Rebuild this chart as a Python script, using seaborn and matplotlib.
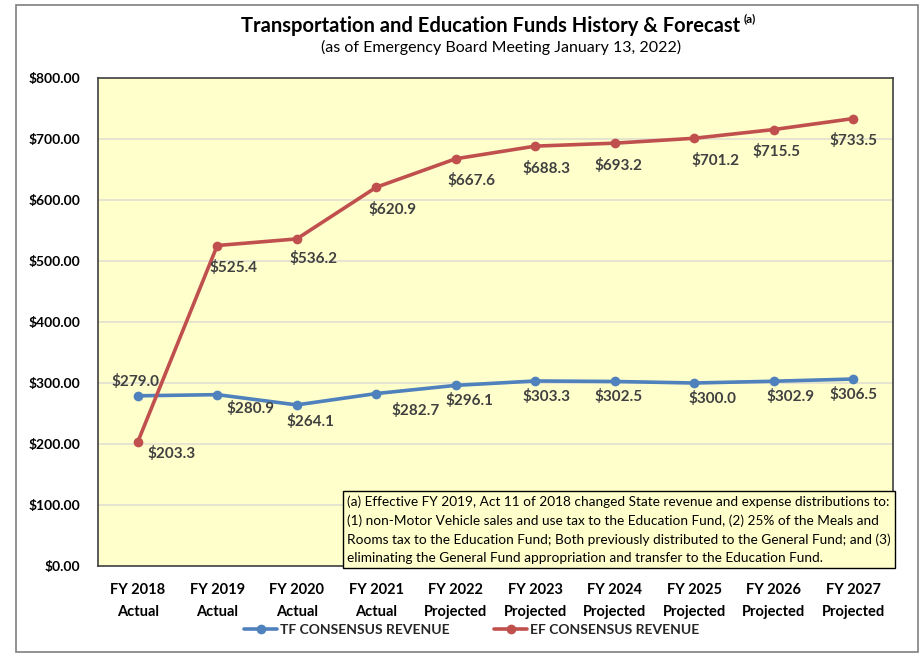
import pandas as pd
import matplotlib.pyplot as plt
import seaborn as sns

# Data
years = ["FY 2018\nActual", "FY 2019\nActual", "FY 2020\nActual", "FY 2021\nActual",
         "FY 2022\nProjected", "FY 2023\nProjected", "FY 2024\nProjected",
         "FY 2025\nProjected", "FY 2026\nProjected", "FY 2027\nProjected"]
tf_revenue = [279.0, 280.9, 264.1, 282.7, 296.1, 303.3, 302.5, 300.0, 302.9, 306.5]
ef_revenue = [203.3, 525.4, 536.2, 620.9, 667.6, 688.3, 693.2, 701.2, 715.5, 733.5]
series_names = ["TF CONSENSUS REVENUE", "EF CONSENSUS REVENUE"]

# label offsets in points (style only)
tf_offsets = [(-2, 10), (24, -10), (10, -12), (28, -12), (10, -11), (8, -11), (3, -11), (13, -11), (12, -11), (0, -11)]
ef_offsets = [(24, -8), (12, -16), (12, -14), (12, -16), (11, -16), (8, -16), (3, -16), (15, -16), (2, -16), (0, -16)]

sns.set_theme(style="white")
plt.rcParams["font.family"] = ["Lato", "DejaVu Sans"]

df = pd.DataFrame({
    "x": list(range(len(years))) * 2,
    "valor": tf_revenue + ef_revenue,
    "serie": [series_names[0]] * len(years) + [series_names[1]] * len(years),
})

fig = plt.figure(figsize=(9.2, 6.55), dpi=100)
ax = fig.add_axes([98 / 920, 1 - 566 / 655, 795 / 920, 488 / 655])
ax.set_facecolor("#FFFFCC")

colores = {series_names[0]: "#4F81BD", series_names[1]: "#C0504D"}
sns.lineplot(data=df, x="x", y="valor", hue="serie", palette=colores,
             marker="o", markersize=7, markeredgewidth=0, linewidth=2.6, ax=ax)

ax.set_xlim(-0.5, len(years) - 0.5)
ax.set_ylim(0, 800)
ax.set_yticks(range(0, 801, 100))
ax.set_yticklabels([f"${v:.2f}" for v in range(0, 801, 100)], fontsize=10, fontweight="bold", color="black")
ax.set_xticks(range(len(years)))
ax.set_xticklabels(years, fontsize=10.5, fontweight="bold", linespacing=1.75, color="black")
ax.tick_params(axis="y", length=0, pad=13)
ax.tick_params(axis="x", length=0, pad=12)
ax.set_xlabel("")
ax.set_ylabel("")
ax.grid(axis="y", color="#E0E0D0", linewidth=1.2)
for s in ax.spines.values():
    s.set_color("#404040")
    s.set_linewidth(1.2)

for i, v in enumerate(tf_revenue):
    ax.annotate(f"${v:.1f}", (i, v), xytext=tf_offsets[i], textcoords="offset points",
                ha="center", va="center", fontsize=11, fontweight="bold", color="#404040")
for i, v in enumerate(ef_revenue):
    ax.annotate(f"${v:.1f}", (i, v), xytext=ef_offsets[i], textcoords="offset points",
                ha="center", va="center", fontsize=11, fontweight="bold", color="#404040")

nota = ("(a) Effective FY 2019, Act 11 of 2018 changed State revenue and expense distributions to:\n"
        "(1) non-Motor Vehicle sales and use tax to the Education Fund, (2) 25% of the Meals and\n"
        "Rooms tax to the Education Fund; Both previously distributed to the General Fund; and (3)\n"
        "eliminating the General Fund appropriation and transfer to the Education Fund.")
ax.text(0.997, 0.004, nota, transform=ax.transAxes, ha="right", va="bottom", multialignment="left",
        fontsize=9.8, linespacing=1.62, color="black",
        bbox=dict(boxstyle="square,pad=0.3", facecolor="#FFFFCC", edgecolor="black", linewidth=1))

ax.legend(title=None, loc="upper center", bbox_to_anchor=(0.47, -0.093), ncol=2, frameon=False,
          prop={"weight": "bold", "size": 10}, handlelength=2.4, columnspacing=3.2, handletextpad=0.2)

fig.text(0.533, 0.961, "Transportation and Education Funds History & Forecast", ha="center", va="center",
         fontsize=14.5, fontweight="bold", color="black")
fig.text(0.808, 0.972, "(a)", ha="left", va="center", fontsize=8.5, fontweight="bold", color="black")
fig.text(0.545, 0.927, "(as of Emergency Board Meeting January 13, 2022)", ha="center", va="center",
         fontsize=11.5, color="black")

# outer frame
fig.patches.append(plt.Rectangle((16 / 920, 3 / 655), 902 / 920, 647 / 655, transform=fig.transFigure,
                                 fill=False, edgecolor="#7F7F7F", linewidth=1.2))

fig.savefig("out.png", dpi=100)
